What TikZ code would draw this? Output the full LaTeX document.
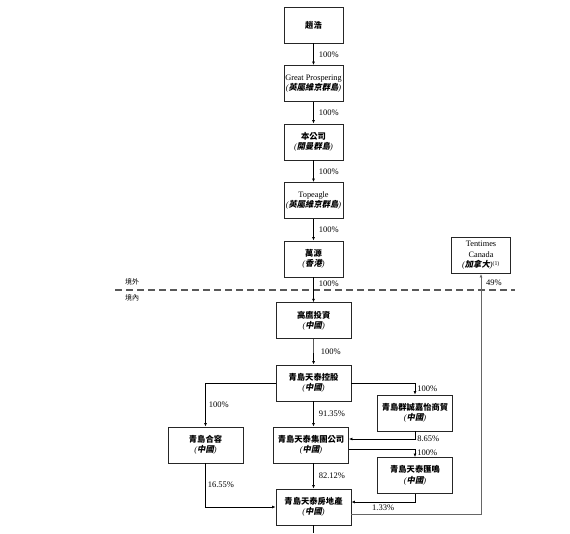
\documentclass[tikz,border=0pt]{standalone}
\usepackage{fontspec}
\setmainfont{Liberation Serif}
\newfontfamily\cjk{Noto Sans CJK TC}
\newfontfamily\cjkit[FakeSlant=0.2]{Noto Sans CJK TC}
\usetikzlibrary{arrows.meta}
\newcommand{\zh}[1]{{\cjk\bfseries #1}}
\newcommand{\zhi}[1]{{\itshape(}{\cjkit\bfseries #1}{\itshape)}}
\tikzset{
  box/.style={draw=black!85, line width=0.9pt, align=center, font=\fontsize{8.3}{10.5}\selectfont, inner sep=1pt, minimum width=75pt, minimum height=36pt},
  sbox/.style={box, minimum width=59pt},
  link/.style={draw=black, line width=0.7pt, -{Latex[length=3.5pt,width=3pt]}},
  plain/.style={draw=black, line width=0.7pt},
  pct/.style={font=\fontsize{8.5}{9}\selectfont, anchor=west, inner sep=0pt},
  zone/.style={font=\fontsize{7}{8}\selectfont, anchor=west, inner sep=0pt},
  border/.style={draw=black!65, line width=1.2pt, dash pattern=on 7pt off 4pt}
}
\begin{document}
\begin{tikzpicture}[x=1pt,y=-1pt]
\useasboundingbox (0,0) rectangle (570,533);
% nodes
\node[sbox] (zh) at (313.5,25) {\zh{趙浩}};
\node[sbox] (gp) at (313.5,83.5) {Great Prospering\\\zhi{英屬維京群島}};
\node[sbox] (co) at (313.5,142) {\zh{本公司}\\\zhi{開曼群島}};
\node[sbox] (tp) at (313.5,200.5) {Topeagle\\\zhi{英屬維京群島}};
\node[sbox] (wy) at (313.5,259) {\zh{萬源}\\\zhi{香港}};
\node[sbox] (tc) at (481,255.5) {Tentimes\\Canada\\\zhi{加拿大}\textsuperscript{(1)}};
\node[box] (gy) at (313.7,320.7) {\zh{高鷹投資}\\\zhi{中國}};
\node[box] (kg) at (313.5,383) {\zh{青島天泰控股}\\\zhi{中國}};
\node[box] (hr) at (205.5,445) {\zh{青島合容}\\\zhi{中國}};
\node[box] (jt) at (311,445) {\zh{青島天泰集團公司}\\\zhi{中國}};
\node[box] (qc) at (415,413) {\zh{青島群誠嘉怡商貿}\\\zhi{中國}};
\node[box] (hm) at (415,475.5) {\zh{青島天泰匯鳴}\\\zhi{中國}};
\node[box] (fd) at (313.5,507) {\zh{青島天泰房地產}\\\zhi{中國}};
% border line
\coordinate (dl) at (115,290);
\coordinate (dr) at (515,290);
\draw[border] (dl) -- (dr);
\node[zone] (out) at (125,282) {{\cjk 境外}};
\node[zone] (in) at (125,298) {{\cjk 境內}};
% chain
\draw[link] (zh) -- node[pct, xshift=5pt]{100\%} (gp);
\draw[link] (gp) -- node[pct, xshift=5pt]{100\%} (co);
\draw[link] (co) -- node[pct, xshift=5pt]{100\%} (tp);
\draw[link] (tp) -- node[pct, xshift=5pt]{100\%} (wy);
\draw[link] (wy) -- node[pct, pos=0.27, xshift=5pt]{100\%} (wy.south |- gy.north);
\draw[link] (gy) -- node[pct, xshift=7pt]{100\%} (kg);
\draw[link] (kg.south) -- node[pct, xshift=5pt]{91.35\%} (kg.south |- jt.north);
\draw[link] (kg.south |- jt.south) -- node[pct, xshift=5pt]{82.12\%} (kg.south |- fd.north);
\draw[link] (kg.west) -| node[pct, pos=0.75, xshift=3pt]{100\%} (hr.north);
\draw[link] (kg.east) -| node[pct, pos=0.75, xshift=2pt]{100\%} (qc.north);
\draw[link] (qc.south) |- node[pct, pos=0.5, xshift=2pt]{8.65\%} ([yshift=6pt]jt.east);
\draw[link] ([yshift=-4pt]jt.east) -| node[pct, pos=0.75, xshift=2pt]{100\%} (hm.north);
\draw[link] (hr.south) |- node[pct, pos=0.25, xshift=2pt]{16.55\%} (fd.west);
\draw[link] (hm.south) |- ([yshift=5pt]fd.east);
\node[pct] (l133) at (372,508) {1.33\%};
\draw[link, draw=black!60, line width=1pt] ([yshift=-7pt]fd.east) -| (tc.south);
\node[pct] (l49) at (486,283) {49\%};
\coordinate (bot) at (313.5,533);
\draw[plain] (fd.south) -- (bot);
\end{tikzpicture}
\end{document}
